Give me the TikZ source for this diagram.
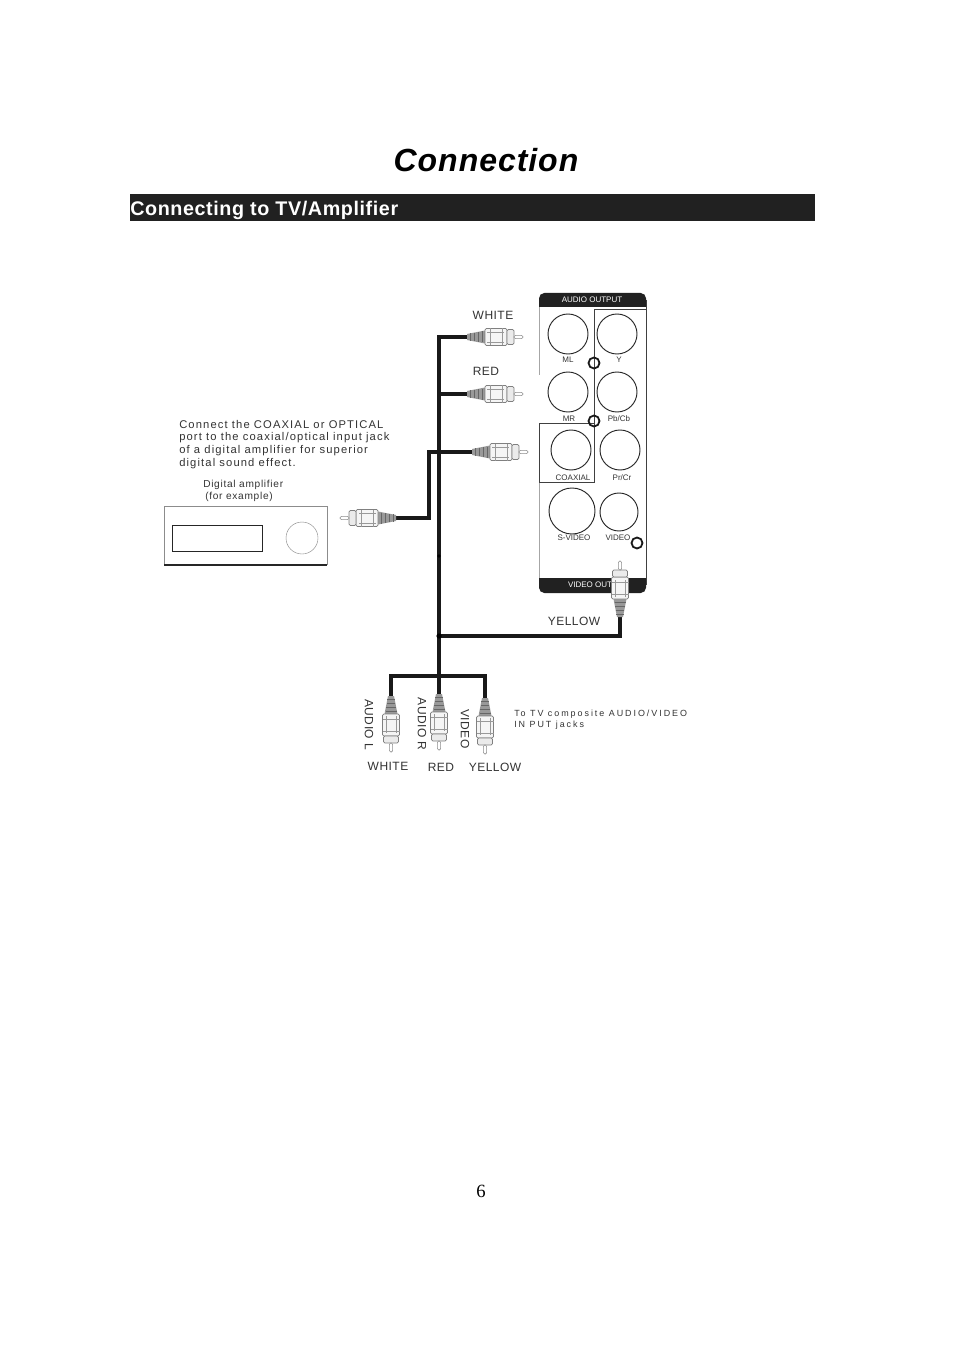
\documentclass[tikz,border=0pt]{standalone}
\usepackage{fontspec}
\setmainfont{Liberation Sans}
\newfontfamily\pagefont{Liberation Serif}
\newfontfamily\spacedfont[LetterSpace=4]{Liberation Sans}
\newfontfamily\notefont[LetterSpace=10]{Liberation Sans}
\newfontfamily\ampfont[LetterSpace=7]{Liberation Sans}
\newfontfamily\widefont[LetterSpace=22]{Liberation Sans}
\newfontfamily\titlefont[LetterSpace=3,BoldItalicFont={Liberation Sans Bold Italic}]{Liberation Sans}
\newfontfamily\headfont[LetterSpace=3]{Liberation Sans}
\usetikzlibrary{calc}
\definecolor{inkgray}{gray}{0.2}
\definecolor{bandblack}{gray}{0.13}
\tikzset{
  wire/.style={line width=2.4pt,black!90,line cap=round,line join=miter},
  panelline/.style={line width=0.55pt,black!75},
  jack/.style={line width=0.7pt,black!85},
  ring/.style={line width=1.35pt,black!90},
  lab/.style={inner sep=0pt,text=inkgray,font=\spacedfont\fontsize{9}{9}\selectfont},
  jacklab/.style={inner sep=0pt,text=inkgray,font=\fontsize{6}{6}\selectfont},
  note/.style={inner sep=0pt,anchor=base west,text=inkgray,font=\notefont\fontsize{8.4}{8.4}\selectfont},
  ampnote/.style={inner sep=0pt,anchor=west,text=inkgray,font=\ampfont\fontsize{7.6}{7.6}\selectfont},
  tvnote/.style={inner sep=0pt,anchor=west,text=inkgray,font=\widefont\fontsize{6.7}{6.7}\selectfont},
  plug/.pic={
    \fill[black!40] (0,-3)--(0,3)--(18,6.5)--(18,-6.5)--cycle;
    \foreach \sx in {3,7,11,15}\draw[black!60,line width=0.6pt] (\sx,-3.4-\sx*0.14)--(\sx,3.4+\sx*0.14);
    \draw[black!50,fill=black!4,line width=0.5pt,rounded corners=1pt] (18,-8.5) rectangle (40,8.5);
    \draw[black!40,line width=0.5pt] (20,-5)--(37,-5) (20,5)--(37,5) (23,-8.5)--(23,8.5) (35,-8.5)--(35,8.5);
    \draw[black!50,fill=black!8,line width=0.5pt,rounded corners=1pt] (40,-7.5) rectangle (47,7.5);
    \draw[black!45,fill=white,line width=0.5pt,rounded corners=1pt] (47,-1.6) rectangle (56,1.6);
  }
}
\begin{document}
\begin{tikzpicture}[x=0.75pt,y=-0.75pt]
  \useasboundingbox[fill=white] (0,0) rectangle (954,1351);
  % heading
  \node[inner sep=0pt] (title) at (486,160) {\fontsize{24}{24}\selectfont\titlefont\bfseries\itshape Connection};
  \fill[bandblack] (130,194) rectangle (815,221);
  \node[inner sep=0pt,anchor=west,text=white] (head) at (130,210.5) {\fontsize{14.8}{14.8}\selectfont\headfont\bfseries Connecting to TV/Amplifier};
  \node[inner sep=0pt] (pagenum) at (481,1191) {\fontsize{14}{14}\selectfont\pagefont 6};
  % rear panel
  \coordinate (PA) at (539,293); \coordinate (PB) at (646,593);
  \fill[bandblack,rounded corners=4pt] (539,293) rectangle (646,312);
  \fill[white] (539.5,307) rectangle (645.5,315);
  \fill[bandblack,rounded corners=4pt] (539,572) rectangle (646,593);
  \fill[white] (539.5,570) rectangle (645.5,578);
  \draw[panelline] (646,300)--(646,585);
  \draw[panelline,black!35] (539,307)--(539,375) (539,482)--(539,578);
  \draw[panelline] (646,309)--(594,309)--(594,482)--(539,482)--(539,423)--(594,423);
  \foreach \n/\x/\y/\r in {ML/568/334/20,Y/617/334/20,MR/568/392/20,PB/617/392/20,CX/571/450/20,PR/620/450/20,SV/572/511/23,VD/619/512/19}
    \draw[jack] (\x,\y) circle (\r);
  \foreach \x/\y in {594/363,594/421,637/543}
    \draw[ring] (\x,\y) circle (5.5);
  \foreach \n/\x/\y/\t in {lML/568/360/ML,lY/619/360/Y,lMR/569/419/MR,lPB/619/419/{Pb/Cb},lCX/573/478/COAXIAL,lPR/622/478/{Pr/Cr},lSV/574/538/S-VIDEO,lVD/618/538/VIDEO}
    \node[jacklab] (\n) at (\x,\y) {\t};
  \node[jacklab,text=white] (audioout) at (592,300) {AUDIO OUTPUT};
  \node[jacklab,text=white] (videoout) at (590,585) {VIDEO OUT};
  % wires
  \coordinate (W) at (467,337); \coordinate (R) at (467,394); \coordinate (C) at (472,452);
  \coordinate (A) at (396,518); \coordinate (V) at (620,617);
  \coordinate (L1) at (391,696); \coordinate (L2) at (439,694); \coordinate (L3) at (485,698);
  \coordinate (T1) at (439,337); \coordinate (T2) at (439,394); \coordinate (T3) at (439,636);
  \coordinate (T4) at (439,676); \coordinate (K1) at (429,452); \coordinate (K2) at (429,518);
  \coordinate (H1) at (391,676); \coordinate (H3) at (485,676); \coordinate (Y1) at (620,636);
  \draw[wire] (W)--(T1)--(T3)--(T4)--(L2);
  \draw[wire] (T2)--(R);
  \draw[wire] (C)--(K1)--(K2)--(A);
  \draw[wire] (T3)--(Y1)--(V);
  \draw[wire] (L1)--(H1)--(H3)--(L3);
  \fill[black] (T3) circle (2.6) (439,556) circle (1.8);
  % plugs
  \pic at (W) {plug};
  \pic at (R) {plug};
  \pic at (C) {plug};
  \pic[rotate=180] at (A) {plug};
  \pic[rotate=90] at (V) {plug};
  \pic[rotate=-90] at (L1) {plug};
  \pic[rotate=-90] at (L2) {plug};
  \pic[rotate=-90] at (L3) {plug};
  % labels
  \foreach \n/\x/\y/\t in {lW/493/315/WHITE,lR/486/371/RED,lYe/574/621/YELLOW,bW/388/766/WHITE,bR/441/767/RED,bY/495/767/YELLOW}
    \node[lab] (\n) at (\x,\y) {\t};
  \foreach \n/\x/\y/\t in {rL/369/724.5/AUDIO L,rR/422/724/AUDIO R,rV/465/729/VIDEO}
    \node[lab,rotate=-90] (\n) at (\x,\y) {\t};
  \node[note] (n1) at (179,428) {Connect the COAXIAL or OPTICAL};
  \node[note] (n2) at (179,440.5) {port to the coaxial/optical input jack};
  \node[note] (n3) at (179,453.5) {of a digital amplifier for superior};
  \node[note] (n4) at (179,466) {digital sound effect.};
  \node[ampnote] (n5) at (203,485) {Digital amplifier};
  \node[ampnote] (n6) at (205,496.5) {(for example)};
  \node[tvnote] (tv1) at (514,714) {To TV composite AUDIO/VIDEO};
  \node[tvnote] (tv2) at (514,725) {IN PUT jacks};
  % amplifier
  \draw[line width=0.4pt,black!45] (164,565)--(164,506)--(327,506)--(327,565);
  \draw[line width=0.8pt,black!85] (164,565)--(327,565);
  \draw[line width=0.6pt,black!85] (172,525) rectangle (262,551);
  \draw[line width=0.3pt,black!50] (302,538) circle (16);
\end{tikzpicture}
\end{document}
